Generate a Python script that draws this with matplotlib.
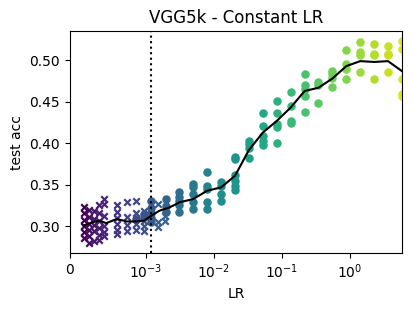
import matplotlib
matplotlib.use("Agg")
import matplotlib.pyplot as plt
import numpy as np
from matplotlib.scale import SymmetricalLogTransform

# runs drawn with "x" markers (one list of test acc per LR)
cross_lr = [1.8e-4, 2.5e-4, 3.2e-4, 3.9e-4, 4.5e-4, 6.2e-4, 7.5e-4, 8.7e-4, 9.8e-4, 1.5e-3, 1.9e-3]
cross_acc = [
    [0.323, 0.316, 0.308, 0.300, 0.293, 0.286],
    [0.320, 0.311, 0.303, 0.296, 0.288, 0.280],
    [0.318, 0.309, 0.302, 0.294, 0.283],
    [0.326, 0.316, 0.306, 0.298, 0.290, 0.284],
    [0.333, 0.327, 0.312, 0.301, 0.293, 0.288],
    [0.326, 0.317, 0.310, 0.303, 0.296, 0.291],
    [0.330, 0.311, 0.302, 0.295],
    [0.331, 0.316, 0.303, 0.296],
    [0.318, 0.307, 0.300, 0.294],
    [0.327, 0.305, 0.299],
    [0.312, 0.307],
]

# runs drawn with circles
circle_lr = [8.7e-4, 9.8e-4, 1.22e-3, 1.96e-3, 3.13e-3, 5.0e-3, 8.0e-3, 0.0128, 0.0205,
             0.0328, 0.0525, 0.084, 0.134, 0.215, 0.344, 0.55, 0.88, 1.41, 2.25, 3.6, 5.77]
circle_acc = [
    [0.309],
    [0.315, 0.311],
    [0.331, 0.322, 0.316, 0.310, 0.305],
    [0.333, 0.325, 0.317],
    [0.341, 0.336, 0.331, 0.326, 0.317],
    [0.351, 0.347, 0.339, 0.329, 0.321],
    [0.365, 0.349, 0.345, 0.329, 0.321],
    [0.353, 0.349, 0.339, 0.331],
    [0.383, 0.381, 0.362, 0.355, 0.349, 0.344],
    [0.403, 0.399, 0.394, 0.382],
    [0.436, 0.421, 0.409, 0.403, 0.398],
    [0.451, 0.437, 0.423, 0.420, 0.400],
    [0.462, 0.445, 0.427, 0.424],
    [0.483, 0.470, 0.466, 0.457, 0.438],
    [0.474, 0.470, 0.448],
    [0.487, 0.483, 0.479, 0.468],
    [0.512, 0.495, 0.490, 0.478],
    [0.522, 0.510, 0.506, 0.486],
    [0.520, 0.508, 0.506, 0.477],
    [0.517, 0.508, 0.506, 0.486],
    [0.523, 0.514, 0.478, 0.460, 0.457],
]

# mean curve
mean_lr = [1.8e-4, 3.0e-4, 3.9e-4, 4.8e-4, 6.2e-4, 7.5e-4, 8.8e-4, 9.8e-4, 1.22e-3, 1.6e-3,
           2.26e-3, 3.13e-3, 5.0e-3, 8.0e-3, 0.0128, 0.0205, 0.0328, 0.0525, 0.084, 0.134,
           0.215, 0.344, 0.55, 0.88, 1.41, 2.25, 3.6, 5.77]
mean_acc = [0.301, 0.305, 0.307, 0.304, 0.309, 0.306, 0.306, 0.307, 0.313, 0.319,
            0.323, 0.329, 0.333, 0.343, 0.347, 0.361, 0.392, 0.413, 0.427, 0.443,
            0.463, 0.467, 0.478, 0.493, 0.499, 0.498, 0.499, 0.487]

threshold_lr = 1.22e-3

# colour by position on the symlog axis
tr = SymmetricalLogTransform(10, 1e-3, 1.0)
t_lo = tr.transform(np.array([min(cross_lr)]))[0]
t_hi = tr.transform(np.array([max(circle_lr)]))[0]
cmap = plt.cm.viridis


def col(lr):
    t = tr.transform(np.array([lr]))[0]
    return cmap(0.95 * ((t - t_lo) / (t_hi - t_lo)) ** 0.8)


fig = plt.figure(figsize=(4.11, 3.11), dpi=100)
ax = fig.add_axes([0.170, 0.186, 0.808, 0.714])

for lr, accs in zip(cross_lr, cross_acc):
    ax.scatter([lr] * len(accs), accs, marker="x", s=22, color=col(lr), linewidths=1.6)
for lr, accs in zip(circle_lr, circle_acc):
    ax.scatter([lr] * len(accs), accs, marker="o", s=26, color=col(lr))

ax.plot(mean_lr, mean_acc, color="black", lw=1.5)
ax.axvline(threshold_lr, color="black", ls=":", lw=1.5)

ax.set_xscale("symlog", linthresh=1e-3)
ax.set_xlim(0, max(circle_lr))
ax.set_title("VGG5k - Constant LR")
ax.set_xlabel("LR")
ax.set_ylabel("test acc")

fig.savefig("out.png")
